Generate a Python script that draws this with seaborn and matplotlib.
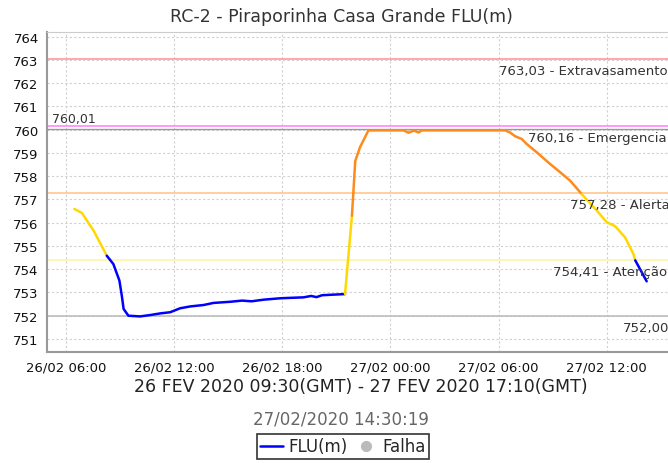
import pandas as pd
import numpy as np
import matplotlib
matplotlib.use('Agg')
import matplotlib.pyplot as plt
import matplotlib.dates as mdates
from matplotlib.lines import Line2D
import seaborn as sns

# Water level readings
times = [
    '2020-02-26 06:28', '2020-02-26 06:53', '2020-02-26 07:32', '2020-02-26 08:16',
    '2020-02-26 08:38', '2020-02-26 08:58', '2020-02-26 09:06', '2020-02-26 09:12',
    '2020-02-26 09:28', '2020-02-26 10:07', '2020-02-26 10:41', '2020-02-26 11:14',
    '2020-02-26 11:47', '2020-02-26 12:20', '2020-02-26 12:54', '2020-02-26 13:38',
    '2020-02-26 14:11', '2020-02-26 15:07', '2020-02-26 15:46', '2020-02-26 16:18',
    '2020-02-26 16:58', '2020-02-26 17:53', '2020-02-26 18:30', '2020-02-26 19:11',
    '2020-02-26 19:36', '2020-02-26 19:54', '2020-02-26 20:12', '2020-02-26 20:40',
    '2020-02-26 21:29', '2020-02-26 21:52', '2020-02-26 22:03', '2020-02-26 22:19',
    '2020-02-26 22:47', '2020-02-27 00:44', '2020-02-27 01:00', '2020-02-27 01:18',
    '2020-02-27 01:34', '2020-02-27 01:44', '2020-02-27 06:22', '2020-02-27 06:38',
    '2020-02-27 06:55', '2020-02-27 07:17', '2020-02-27 07:34', '2020-02-27 08:07',
    '2020-02-27 08:52', '2020-02-27 09:25', '2020-02-27 09:58', '2020-02-27 10:37',
    '2020-02-27 11:27', '2020-02-27 12:00', '2020-02-27 12:28', '2020-02-27 13:01',
    '2020-02-27 13:29', '2020-02-27 13:35', '2020-02-27 14:13',
]
levels = [
    756.59, 756.42, 755.66, 754.58,
    754.22, 753.51, 752.86, 752.29,
    752.00, 751.97, 752.03, 752.10,
    752.15, 752.32, 752.40, 752.46,
    752.55, 752.60, 752.65, 752.62,
    752.69, 752.75, 752.77, 752.79,
    752.85, 752.80, 752.88, 752.90,
    752.93, 756.30, 758.65, 759.25,
    759.97, 759.97, 759.87, 759.96,
    759.88, 759.97, 759.97, 759.88,
    759.72, 759.60, 759.38, 759.03,
    758.52, 758.17, 757.81, 757.23,
    756.52, 756.02, 755.85, 755.37,
    754.65, 754.38, 753.48,
]

# alert thresholds
limit_values = [763.03, 760.16, 757.28, 754.41, 752.00]
limit_names = ['Extravasamento', 'Emergencia', 'Alerta', 'Atenção', '']
limit_colors = ['#ff9a9a', '#ff88ff', '#ffc68c', '#fff3a6', '#bdbdbd']
label_x_px = [499, 528, 570, 553, 623]
ref_value = 760.01

title = 'RC-2 - Piraporinha Casa Grande FLU(m)'
subtitle = '26 FEV 2020 09:30(GMT) - 27 FEV 2020 17:10(GMT)'
stamp = '27/02/2020 14:30:19'

BLUE, YELLOW, ORANGE = '#0000ff', '#ffd800', '#ff8a1c'


def level_color(v):
    if v > limit_values[2]:
        return ORANGE
    if v > limit_values[3]:
        return YELLOW
    return BLUE


df = pd.DataFrame({'time': pd.to_datetime(times), 'level': levels})

# split the series into coloured runs (segment colour from segment mean)
rows = []
palette = {}
run = -1
prev = None
for i in range(len(df) - 1):
    c = level_color((df.level[i] + df.level[i + 1]) / 2)
    if c != prev:
        run += 1
        palette[f'r{run}'] = c
        rows.append((df.time[i], df.level[i], f'r{run}'))
        prev = c
    rows.append((df.time[i + 1], df.level[i + 1], f'r{run}'))
runs = pd.DataFrame(rows, columns=['time', 'level', 'run'])

sns.set_style('white')
plt.rcParams['font.family'] = ['DejaVu Sans']

W, H = 668, 464
fig = plt.figure(figsize=(W / 100, H / 100), dpi=100)
ax = fig.add_axes([47 / W, 1 - 353 / H, 1 - 47 / W, (353 - 33) / H])

for v, c in zip(limit_values, limit_colors):
    ax.axhline(v, color=c, lw=1.2, zorder=1)
ax.axhline(ref_value, color='#999999', lw=1.0, zorder=1)

sns.lineplot(data=runs, x='time', y='level', hue='run', palette=palette,
             estimator=None, sort=False, legend=False, lw=1.8, ax=ax, zorder=3)

for v, name, px in zip(limit_values, limit_names, label_x_px):
    txt = f'{v:.2f}'.replace('.', ',') + (f' - {name}' if name else '')
    ax.text((px - 47) / (W - 47), v - 0.5, txt, transform=ax.get_yaxis_transform(),
            ha='left', va='center', fontsize=9.5, color='#333333', clip_on=False)
ax.text(5 / (W - 47), ref_value + 0.45, f'{ref_value:.2f}'.replace('.', ','),
        transform=ax.get_yaxis_transform(), ha='left', va='center',
        fontsize=9, color='#333333')

ax.set_xlim(pd.Timestamp('2020-02-26 04:57'), pd.Timestamp('2020-02-27 15:24'))
ax.set_ylim(750.44, 764.2)
ax.set_yticks(range(751, 765))
ax.xaxis.set_major_locator(mdates.HourLocator(byhour=[0, 6, 12, 18]))
ax.xaxis.set_major_formatter(mdates.DateFormatter('%d/%m %H:%M'))
ax.set_xlabel('')
ax.set_ylabel('')
ax.grid(True, color='#d0d0d0', linestyle=(0, (2, 2)), lw=0.8)
ax.tick_params(axis='both', length=4, width=1, color='#888888',
               labelsize=9.5, labelcolor='#111111', pad=2)
for s in ['left', 'bottom']:
    ax.spines[s].set_color('#999999')
    ax.spines[s].set_linewidth(1.5)
ax.spines['top'].set_color('#cccccc')
ax.spines['right'].set_visible(False)

fig.text(341 / W, 1 - 17 / H, title, ha='center', va='center', fontsize=12.5, color='#333333')
fig.text(361 / W, 1 - 387 / H, subtitle, ha='center', va='center', fontsize=12.5, color='#222222')
fig.text(341 / W, 1 - 420 / H, stamp, ha='center', va='center', fontsize=12, color='#666666')

handles = [Line2D([0], [0], color=BLUE, lw=1.8),
           Line2D([0], [0], marker='o', color='#bbbbbb', ls='None', markersize=7)]
leg = fig.legend(handles, ['FLU(m)', 'Falha'], loc='center',
                 bbox_to_anchor=(343 / W, 1 - 447.5 / H), ncol=2, frameon=True,
                 fancybox=False, edgecolor='black', fontsize=12, handlelength=1.4,
                 handletextpad=0.3, columnspacing=0.4, borderpad=0.2,
                 borderaxespad=0)
leg.get_frame().set_linewidth(1.2)

fig.savefig('out.png', dpi=100)
